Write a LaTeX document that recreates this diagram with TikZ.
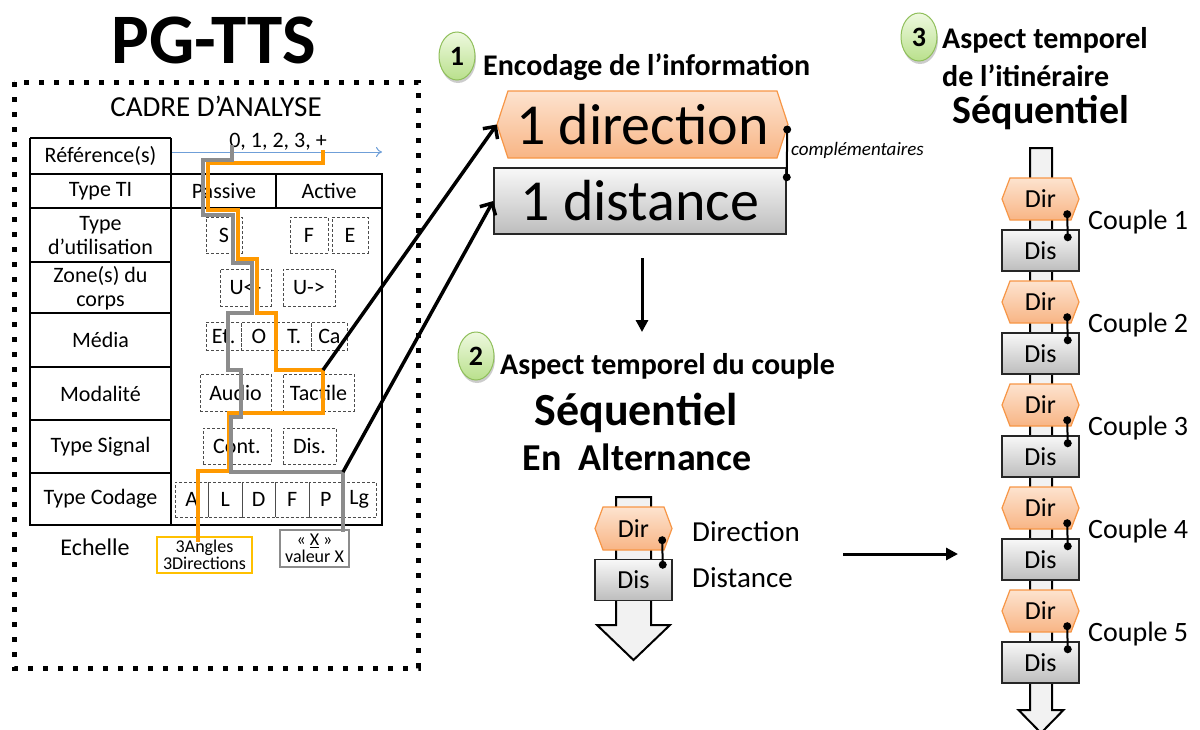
\documentclass[tikz,border=0pt]{standalone}
\usepackage{fontspec}
\setmainfont{Carlito}
\usetikzlibrary{arrows.meta,calc,shadows}
\definecolor{orgline}{HTML}{FF9900}
\definecolor{grline}{HTML}{8C8C8C}
\definecolor{hexdraw}{HTML}{F79646}
\definecolor{hextop}{HTML}{FDE3CF}
\definecolor{hexbot}{HTML}{F8B585}
\definecolor{distop}{HTML}{F8F8F8}
\definecolor{disbot}{HTML}{BDBDBD}
\definecolor{refblue}{HTML}{6F9FD8}
\definecolor{ballin}{HTML}{EEF9DF}
\definecolor{ballout}{HTML}{B9E08C}
\definecolor{balldraw}{HTML}{8FBF5A}
\definecolor{echbox}{HTML}{FFC000}
\definecolor{trackfill}{HTML}{F2F2F2}
\newcommand\fsz[2]{\fontsize{#1}{#2}\selectfont}
\tikzset{
  tbl/.style={line width=2pt},
  cell/.style={inner sep=0pt, align=center, font=\fsz{22}{24}},
  dbox/.style={draw=black!70, densely dashed, line width=0.8pt, inner sep=0pt, font=\fsz{22}{24}},
  pathO/.style={draw=orgline, line width=4pt},
  pathG/.style={draw=grline, line width=4pt},
  hexsty/.style={draw=hexdraw, line width=1.2pt, top color=hextop, bottom color=hexbot},
  disbox/.style={draw=black!85, line width=1.5pt, top color=distop, bottom color=disbot, inner sep=0pt, minimum width=77pt, minimum height=41pt, font=\fsz{26}{30}},
  ballbg/.style={fill=black, opacity=0.2},
  ballfill/.style={draw=balldraw, line width=1pt, top color=ballin, bottom color=ballout},
  balltxt/.style={inner sep=0pt, minimum width=36pt, minimum height=48pt, font=\bfseries\fsz{28}{30}},
  head/.style={anchor=west, inner sep=0pt, font=\bfseries\fsz{30}{34}},
  link/.style={line width=2pt},
  dot/.style={fill=black},
  bigarr/.style={line width=3.5pt, -{Straight Barb[length=9pt,width=18pt]}},
  farr/.style={line width=3pt, -{Triangle[length=12pt,width=12pt]}},
  track/.style={fill=trackfill, draw=black, line width=2pt, line join=miter},
}
\newcommand\hexbox[8]{%
  \path[hexsty] ({#2-#4/2},#3) -- ({#2-#4/2+#6},{#3-#5/2}) -- ({#2+#4/2-#6},{#3-#5/2}) -- ({#2+#4/2},#3) -- ({#2+#4/2-#6},{#3+#5/2}) -- ({#2-#4/2+#6},{#3+#5/2}) -- cycle;
  \node[inner sep=0pt, minimum width=#4, minimum height=#5, font=#7] (#1) at (#2,#3) {#8};}
\newcommand\numball[4]{% name, x, y, text
  \fill[ballbg] (#2+1,#3+3) ellipse [x radius=18pt, y radius=24pt];
  \path[ballfill] (#2,#3) ellipse [x radius=18pt, y radius=24pt];
  \node[balltxt] (#1) at (#2,#3) {#4};}
\begin{document}
\begin{tikzpicture}[x=1pt,y=-1pt]
\useasboundingbox[fill=white] (0,0) rectangle (1200,729);
\clip (0,0) rectangle (1200,729);

% ---------------- left panel ----------------
\node[font=\bfseries\fsz{71}{75}] (title) at (214,40) {PG-TTS};
\draw[line width=5pt, dash pattern=on 5pt off 10pt] (14,82) rectangle (418,668);
\node[font=\fsz{29}{32}] (cadre) at (216,106) {CADRE D’ANALYSE};

% table lines
\draw[tbl] (30,138) -- (171,138);
\draw[tbl] (30,138) -- (30,525) -- (382,525) -- (382,174) -- (30,174);
\draw[tbl] (171,138) -- (171,525);
\draw[tbl] (30,208) -- (382,208);
\draw[tbl] (276,174) -- (276,208);
\foreach \yy in {262,313,367,420,473} \draw[tbl] (30,\yy) -- (171,\yy);

% left column labels
\node[cell] (lref) at (100.5,156) {Référence(s)};
\node[cell] (lti) at (100.5,191) {Type TI};
\node[cell] (luse) at (100.5,236) {Type\\d’utilisation};
\node[cell] (lzone) at (100.5,288) {Zone(s) du\\corps};
\node[cell] (lmed) at (100.5,340) {Média};
\node[cell] (lmod) at (100.5,393.5) {Modalité};
\node[cell] (lsig) at (100.5,446.5) {Type Signal};
\node[cell] (lcod) at (100.5,499) {Type Codage};
\node[cell] (pass) at (224,191) {Passive};
\node[cell] (act) at (329,191) {Active};

% reference axis
\coordinate (ax0) at (172,152);
\coordinate (ax1) at (382,152);
\draw[refblue, line width=1pt, -{To[length=6pt,width=10pt]}] (ax0) -- (ax1);
\node[font=\fsz{22}{24}, inner sep=0pt] (nums) at (278,142) {0, 1, 2, 3, +};

% dashed option boxes
\node[dbox, minimum width=36, minimum height=36] (bS) at (224,235) {S};
\node[dbox, minimum width=38, minimum height=36] (bF) at (309,235) {F};
\node[dbox, minimum width=36, minimum height=36] (bE) at (350,235) {E};
\node[dbox, minimum width=51, minimum height=37] (bUl) at (245.5,287.5) {U<-};
\node[dbox, minimum width=52, minimum height=37] (bUr) at (309,287.5) {U->};
\node[dbox, minimum width=35.25, minimum height=28] (bEt) at (223.6,336.5) {Et.};
\node[dbox, minimum width=35.25, minimum height=28] (bO) at (258.9,336.5) {O};
\node[dbox, minimum width=35.25, minimum height=28] (bT) at (294.1,336.5) {T.};
\node[dbox, minimum width=35.25, minimum height=28] (bCa) at (329.4,336.5) {Ca};
\node[dbox, minimum width=71, minimum height=37] (bAu) at (235.5,392.5) {Audio};
\node[dbox, minimum width=71, minimum height=37] (bTa) at (318.5,392.5) {Tactile};
\node[dbox, minimum width=68, minimum height=36] (bCo) at (237,446) {Cont.};
\node[dbox, minimum width=53, minimum height=36] (bDi) at (309.5,446) {Dis.};
\node[dbox, minimum width=33.5, minimum height=35] (c1b) at (191.75,499.5) {A};
\node[dbox, minimum width=33.5, minimum height=35] (c2b) at (225.25,499.5) {L};
\node[dbox, minimum width=33.5, minimum height=35] (c3b) at (258.75,499.5) {D};
\node[dbox, minimum width=33.5, minimum height=35] (c4b) at (292.25,499.5) {F};
\node[dbox, minimum width=33.5, minimum height=35] (c5b) at (325.75,499.5) {P};
\node[dbox, minimum width=33.5, minimum height=35] (c6b) at (359.25,499.5) {Lg};

% echelle
\node[font=\fsz{24}{26}] (ech) at (95,547) {Echelle};
\node[draw=echbox, line width=1.2pt, inner sep=0pt, minimum width=95, minimum height=36, align=center, font=\fsz{18}{17}] (eang) at (204.5,555) {3Angles\\3Directions};
\node[draw=grline, line width=1.2pt, inner sep=0pt, minimum width=69, minimum height=37, align=center, font=\fsz{18}{17}] (eval) at (314.5,548.5) {« \underline{X} »\\valeur X};

% paths
\draw[pathO] (323,150) -- (323,163) -- (208,163) -- (208,210) -- (238,210) -- (238,259) -- (257,259) -- (257,313) -- (276,313) -- (276,370) -- (323,370) -- (323,413) -- (229,413) -- (229,471) -- (198,471) -- (198,542);
\draw[pathG] (232,145) -- (232,160) -- (203,160) -- (203,215) -- (233,215) -- (233,263) -- (252,263) -- (252,313) -- (228,313) -- (228,370) -- (241,370) -- (241,417) -- (231,417) -- (231,472) -- (343,472) -- (343,532);
\coordinate (t1) at (323,370);
\coordinate (t2) at (343,472);

% ---------------- encoding ----------------
\numball{ball1}{457}{56}{1}
\node[head] (h1) at (483,67) {Encodage de l’information};
\hexbox{dir}{642.5}{124.5}{291}{67}{11}{\fsz{58}{60}}{1 direction}
\node[draw=black!85, line width=1.5pt, top color=distop, bottom color=disbot, inner sep=0pt, minimum width=292, minimum height=66, font=\fsz{58}{60}] (dist) at (640,201) {1 distance};
\coordinate (cA) at ([xshift=-1pt,yshift=-5pt]dir.east);
\coordinate (cB) at ([yshift=-10pt]dist.north east);
\draw[link] (cA) -- (cB);
\fill[dot] (cA) circle (4pt);
\fill[dot] (cB) circle (4pt);
\node[anchor=west, inner sep=0pt, font=\itshape\fsz{19}{20}] (compl) at (791,150) {complémentaires};

\draw[bigarr] (t1) -- (dir.west);
\draw[bigarr] (t2) -- (dist.west);

\coordinate (d0) at (642,258);
\coordinate (d1) at (642,332);
\draw[farr] (d0) -- (d1);

% ---------------- step 2 ----------------
\numball{ball2}{476}{356}{2}
\node[head] (h2) at (500,366) {Aspect temporel du couple};
\node[font=\bfseries\fsz{46}{48}] (seq2) at (636,413) {Séquentiel};
\node[font=\bfseries\fsz{38}{40}] (alt) at (637,457) {En\ \ Alternance};

\path[track] (616,497) -- (651,497) -- (651,625) -- (670,625) -- (633.5,660) -- (597,625) -- (616,625) -- cycle;
\hexbox{mdir}{633.5}{528.5}{77}{43}{8}{\fsz{26}{30}}{Dir}
\node[disbox] (mdis) at (633.5,580) {Dis};
\coordinate (mA) at ([xshift=-10pt,yshift=10pt]mdir.south east);
\coordinate (mB) at ([xshift=-10pt,yshift=-6pt]mdis.north east);
\draw[link] (mA) -- (mB);
\fill[dot] (mA) circle (4pt);
\fill[dot] (mB) circle (4pt);
\node[anchor=west, inner sep=0pt, font=\fsz{29}{32}] (ldir) at (692,532) {Direction};
\node[anchor=west, inner sep=0pt, font=\fsz{29}{32}] (ldis) at (692,578) {Distance};

\coordinate (r0) at (843,554);
\coordinate (r1) at (958,554);
\draw[farr] (r0) -- (r1);

% ---------------- step 3 ----------------
\numball{ball3}{919}{37}{3}
\node[head] (h3a) at (942,40) {Aspect temporel};
\node[head] (h3b) at (942,76) {de l’itinéraire};
\node[font=\bfseries\fsz{40}{44}] (seq3) at (1041,113) {Séquentiel};

\path[track] (1030,148) -- (1052,148) -- (1052,710) -- (1063.5,710) -- (1041,733) -- (1018.5,710) -- (1030,710) -- cycle;
\foreach \i in {1,...,5}{
  \pgfmathsetmacro\ya{199+103*(\i-1)}
  \pgfmathsetmacro\yb{250.5+103*(\i-1)}
  \pgfmathsetmacro\yc{222+103*(\i-1)}
  \hexbox{rdir\i}{1040.5}{\ya}{77}{42}{8}{\fsz{26}{30}}{Dir}
  \node[disbox] (rdis\i) at (1040.5,\yb) {Dis};
  \coordinate (rA\i) at ([xshift=-12pt,yshift=6pt]rdir\i.south east);
  \coordinate (rB\i) at ([xshift=-12pt,yshift=-8pt]rdis\i.north east);
  \draw[link] (rA\i) -- (rB\i);
  \fill[dot] (rA\i) circle (4pt);
  \fill[dot] (rB\i) circle (4pt);
  \node[anchor=west, inner sep=0pt, font=\fsz{28}{30}] (cp\i) at (1088,\yc) {Couple \i};
}
\end{tikzpicture}
\end{document}
